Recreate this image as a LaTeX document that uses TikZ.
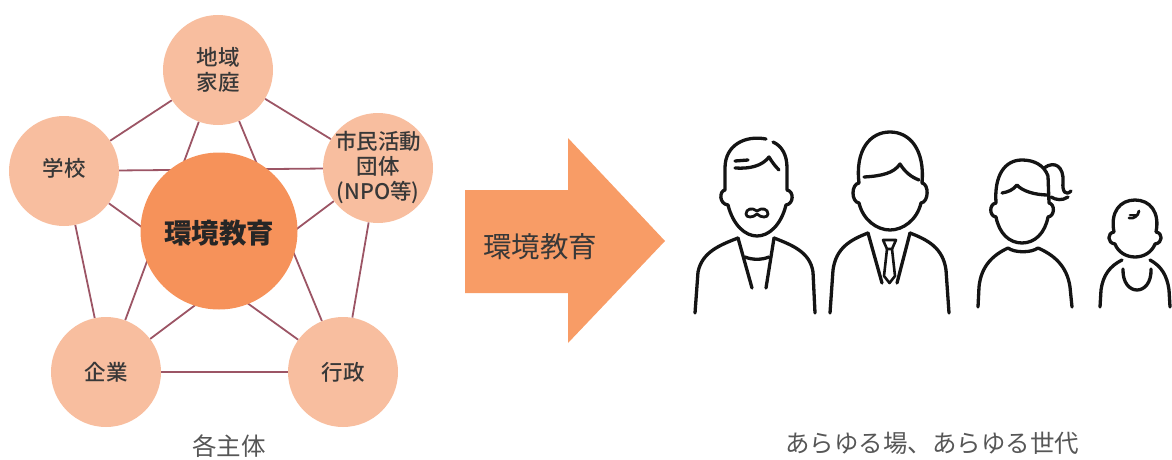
\documentclass[tikz,border=0pt]{standalone}
\usepackage{fontspec}
\setmainfont{Noto Sans CJK JP}
\newfontfamily\labelfont{Noto Sans CJK JP Medium}
\newfontfamily\heavyfont{Noto Sans CJK JP Black}
\usetikzlibrary{backgrounds}
\definecolor{peach}{HTML}{F8BE9F}
\definecolor{core}{HTML}{F6925A}
\definecolor{arrowc}{HTML}{F89C66}
\definecolor{edgec}{HTML}{9C5565}
\definecolor{txt}{HTML}{383838}
\definecolor{ink}{HTML}{141414}
\begin{document}
\begin{tikzpicture}[x=1pt,y=-1pt,
  member/.style={circle,fill=peach,minimum size=110pt,inner sep=0pt},
  link/.style={draw=edgec,line width=1.8pt},
  lbl/.style={text=txt,align=center,inner sep=0pt,font=\labelfont\fontsize{21.5}{25}\selectfont},
  caption/.style={text=txt!85,inner sep=0pt,font=\fontsize{24.5}{28}\selectfont},
  figure/.style={draw=ink,line width=3.3pt,line cap=round,line join=round}]
\useasboundingbox (0,0) rectangle (1172,460);

% --- actors around environmental education ---
\node[member] (chiiki) at (218,70)  {};
\node[member] (gakko)  at (64,171)  {};
\node[member] (shimin) at (378,168) {};
\node[member] (kigyo)  at (106,372) {};
\node[member] (gyosei) at (343,372) {};
\node[circle,fill=core,minimum size=157pt,inner sep=0pt] (core) at (219,231) {};

\node[lbl] (chiiki-t) at (chiiki) {地域\\家庭};
\node[lbl] (gakko-t)  at ([yshift=3pt]gakko.center) {学校};
\node[lbl] (shimin-t) at (shimin) {市民活動\\団体\\(NPO等)};
\node[lbl] (kigyo-t)  at (kigyo) {企業};
\node[lbl] (gyosei-t) at (gyosei) {行政};
\node[text=black!85,inner sep=0pt,font=\heavyfont\fontsize{27.5}{30}\selectfont] (core-t) at (219,233) {環境教育};

% every actor is linked with every other one
\begin{scope}[on background layer]
  \foreach \a/\b in {chiiki/gakko, chiiki/shimin, gakko/kigyo, shimin/gyosei,
                     kigyo/gyosei, chiiki/kigyo, chiiki/gyosei, gakko/shimin,
                     gakko/gyosei, shimin/kigyo}
    \draw[link] (\a) -- (\b);
\end{scope}

\node[caption] (kakushutai) at (229,446) {各主体};

% --- block arrow ---
\fill[arrowc] (465,190) -- (568,190) -- (568,138) -- (665,241) -- (568,343)
  -- (568,293) -- (465,293) -- cycle;
\node[inner sep=0pt,text=txt,font=\fontsize{28.5}{30}\selectfont] (arrow-t) at (540,247) {環境教育};

% --- people of all generations ---
% man with moustache
\draw[figure] (766,139) .. controls (745,135) and (725,145) .. (725,168) -- (725,190)
  .. controls (719,191) and (719,204) .. (728,205)
  .. controls (733,225) and (745,236) .. (757,236)
  .. controls (769,236) and (781,225) .. (786,205)
  .. controls (794,204) and (794,191) .. (787,190) -- (787,168)
  .. controls (787,155) and (782,146) .. (773,142);
\draw[figure] (735,161) -- (748,160);
\draw[figure] (735,168) .. controls (750,169) and (762,166) .. (769,157)
  .. controls (772,162) and (775,166) .. (779,170);
\draw[figure,line width=2.8pt] (757,211) .. controls (752,207) and (746,209) .. (746,214)
  .. controls (746,218) and (753,218) .. (757,214)
  .. controls (761,218) and (768,218) .. (768,214)
  .. controls (768,209) and (762,207) .. (757,211);
\draw[figure] (738,238) .. controls (720,245) and (702,252) .. (698,272) -- (695,313);
\draw[figure] (774,238) .. controls (792,245) and (810,252) .. (813,272) -- (815,313);
\draw[figure] (738,238) -- (752,288);
\draw[figure] (774,238) -- (766,288);
\draw[figure] (745,257) .. controls (752,260) and (762,260) .. (769,257);

% man in a suit
\draw[figure] (859,183) .. controls (855,150) and (870,132) .. (890,132)
  .. controls (910,132) and (925,150) .. (922,183)
  .. controls (929,184) and (929,202) .. (921,203)
  .. controls (917,220) and (903,230) .. (890,230)
  .. controls (877,230) and (863,220) .. (859,203)
  .. controls (851,202) and (851,184) .. (859,183) -- cycle;
\draw[figure] (864,177) .. controls (882,176) and (894,173) .. (900,164)
  .. controls (905,172) and (911,177) .. (919,180);
\draw[figure] (868,233) .. controls (850,240) and (836,248) .. (833,270) -- (830,313);
\draw[figure] (910,233) .. controls (928,240) and (943,248) .. (946,270) -- (949,313);
\draw[figure] (868,233) -- (882,283);
\draw[figure] (910,233) -- (897,283);
\draw[figure,line width=2.6pt] (883,240) -- (896,240) -- (892,249) -- (887,249) -- cycle;
\draw[figure,line width=2.6pt] (887,249) -- (884,276) -- (889.5,283) -- (895,276) -- (892,249);

% girl with a ponytail
\draw[figure] (1048,176) .. controls (1044,165) and (1034,160) .. (1022,160)
  .. controls (1005,160) and (994,175) .. (996,203)
  .. controls (989,204) and (989,216) .. (996,217)
  .. controls (999,233) and (1009,243) .. (1022,243)
  .. controls (1035,243) and (1045,233) .. (1048,217)
  .. controls (1055,216) and (1055,204) .. (1049,203) -- (1048,176);
\draw[figure] (1044,168) .. controls (1055,160) and (1064,167) .. (1063,182)
  .. controls (1062,192) and (1066,196) .. (1071,191);
\draw[figure] (1068,197) .. controls (1062,201) and (1056,200) .. (1051,197);
\draw[figure] (1002,193) .. controls (1008,192) and (1013,190) .. (1017,185)
  .. controls (1022,191) and (1035,195) .. (1048,195);
\draw[figure] (978,307) -- (979,287) .. controls (981,266) and (993,255) .. (1008,248)
  .. controls (1015,253) and (1031,253) .. (1038,248)
  .. controls (1054,255) and (1067,266) .. (1070,287) -- (1072,307);

% small child
\draw[figure] (1114,232) .. controls (1110,212) and (1120,200) .. (1135,200)
  .. controls (1150,200) and (1160,212) .. (1156,232)
  .. controls (1163,233) and (1163,243) .. (1155,244)
  .. controls (1152,252) and (1144,257) .. (1135,257)
  .. controls (1126,257) and (1118,252) .. (1115,244)
  .. controls (1107,243) and (1107,233) .. (1114,232) -- cycle;
\draw[figure,line width=2.8pt] (1129,218) .. controls (1134,219) and (1138,216) .. (1139,211);
\draw[figure,line width=2.8pt] (1130,215) -- (1137,215);
\draw[figure] (1100,307) -- (1101,290) .. controls (1103,275) and (1110,266) .. (1122,260);
\draw[figure] (1150,260) .. controls (1161,266) and (1167,275) .. (1169,290) -- (1170,307);
\draw[figure] (1123,269) .. controls (1122,297) and (1152,297) .. (1151,269);

\node[caption] (arayuru) at (932,443) {あらゆる場、あらゆる世代};
\end{tikzpicture}
\end{document}
